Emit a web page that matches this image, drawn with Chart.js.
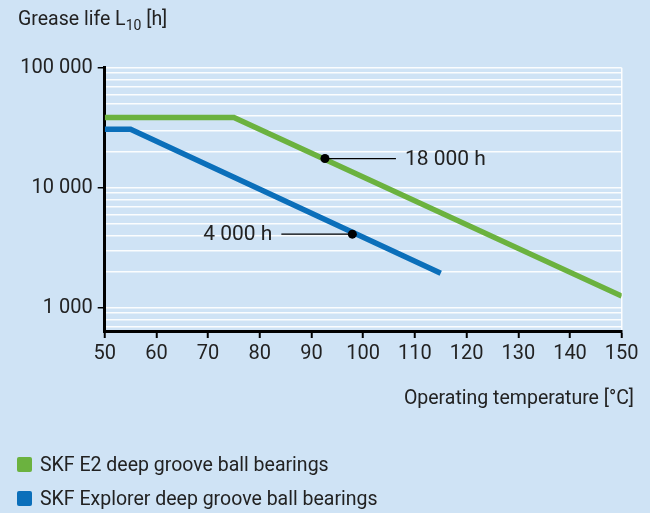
<!DOCTYPE html>
<html><head><meta charset="utf-8">
<script src="https://cdn.jsdelivr.net/npm/chart.js@4"></script>
<style>
html,body{margin:0;padding:0;background:#cfe3f5;}
#wrap{position:relative;width:650px;height:513px;overflow:hidden;font-family:Roboto,sans-serif;color:#222222;}
canvas{position:absolute;left:0;top:0;}
.t{position:absolute;white-space:nowrap;font-size:19.5px;line-height:22px;}
.t sub{font-size:14px;vertical-align:-5px;line-height:0;}
.lg{position:absolute;left:17px;white-space:nowrap;font-size:19.5px;line-height:22px;}
.lg span.sw{position:absolute;left:0;top:3px;width:15px;height:15px;border-radius:2px;}
.lg span.tx{position:absolute;left:23px;top:0;}
</style></head><body>
<div id="wrap">
<canvas id="c" width="650" height="513"></canvas>
<div class="t" style="left:18px;top:8px;">Grease life L<sub>10</sub> [h]</div>
<div class="t" style="right:16px;top:387px;">Operating temperature [°C]</div>
<div id="legend"></div>
</div>
<script>
// ---- data ----
const seriesNames = ['SKF E2 deep groove ball bearings', 'SKF Explorer deep groove ball bearings'];
const e2Temps = [50, 75, 150];
const e2Life = [38500, 38500, 1250];
const explorerTemps = [50, 55, 115];
const explorerLife = [30700, 30700, 1940];
const markerTemps = [92.6, 97.9];
const markerLife = [17500, 4100];
const markerLabels = ['18 000 h', '4 000 h'];
const xTicks = [50, 60, 70, 80, 90, 100, 110, 120, 130, 140, 150];
const yTicks = [700, 800, 900, 1000, 2000, 3000, 4000, 5000, 6000, 7000, 8000, 9000,
  10000, 20000, 30000, 40000, 50000, 60000, 70000, 80000, 90000, 100000];
const yLabelled = [1000, 10000, 100000];

// ---- styles ----
const GREEN = '#6bb23f', BLUE = '#0b6fba', TEXT = '#222222';
const FONT = {family: 'Roboto, sans-serif', size: 20};
const ANN_FONT_SIZE = 21;

function fmt(v) { return String(v).replace(/\B(?=(\d{3})+(?!\d))/g, ' '); }
function pts(xs, ys) { return xs.map((x, i) => ({x: x, y: ys[i]})); }

const leaderPlugin = {
  id: 'leaders',
  afterDatasetsDraw(chart) {
    const {ctx, scales: {x, y}} = chart;
    ctx.save();
    ctx.strokeStyle = '#000';
    ctx.lineWidth = 1.2;
    ctx.fillStyle = TEXT;
    ctx.font = ANN_FONT_SIZE + 'px ' + FONT.family;
    ctx.textBaseline = 'middle';
    markerTemps.forEach((t, i) => {
      const px = x.getPixelForValue(t), py = y.getPixelForValue(markerLife[i]);
      const dir = i === 0 ? 1 : -1;
      ctx.beginPath();
      ctx.moveTo(px, py);
      ctx.lineTo(px + dir * 71, py);
      ctx.stroke();
      ctx.textAlign = dir > 0 ? 'left' : 'right';
      ctx.fillText(markerLabels[i], px + dir * 80, py + 1);
    });
    ctx.restore();
  }
};

new Chart(document.getElementById('c'), {
  type: 'line',
  data: {
    datasets: [
      {label: 'markers', type: 'scatter', data: pts(markerTemps, markerLife), pointRadius: 4.5,
       pointBackgroundColor: '#000', pointBorderWidth: 0, order: 0},
      {label: seriesNames[0], data: pts(e2Temps, e2Life), borderColor: GREEN, borderWidth: 5.5,
       pointRadius: 0, tension: 0, fill: false, borderJoinStyle: 'miter', order: 2},
      {label: seriesNames[1], data: pts(explorerTemps, explorerLife), borderColor: BLUE, borderWidth: 5.5,
       pointRadius: 0, tension: 0, fill: false, borderJoinStyle: 'miter', order: 1}
    ]
  },
  options: {
    responsive: false,
    animation: false,
    layout: {padding: {top: 67.7, right: 28.3, bottom: 0, left: 0}},
    plugins: {legend: {display: false}, tooltip: {enabled: false}},
    scales: {
      x: {
        type: 'linear', min: 50, max: 150,
        afterBuildTicks: s => { s.ticks = xTicks.map(v => ({value: v})); },
        afterFit: s => { s.height = 182; },
        ticks: {font: FONT, color: TEXT, padding: 4, autoSkip: false, maxRotation: 0},
        grid: {
          color: c => (c.tick && c.tick.value === 150) ? 'rgba(255,255,255,0.9)' : 'rgba(0,0,0,0)',
          lineWidth: 1.5, tickColor: '#000', tickLength: 7, tickWidth: 2
        },
        border: {color: '#000', width: 3}
      },
      y: {
        type: 'logarithmic', min: 640, max: 100000,
        afterBuildTicks: s => { s.ticks = yTicks.map(v => ({value: v})); },
        afterFit: s => { s.width = 104.7; },
        ticks: {font: FONT, color: TEXT, padding: 5, autoSkip: false,
          callback: v => yLabelled.includes(v) ? fmt(v) : ''},
        grid: {
          color: 'rgba(255,255,255,0.9)', lineWidth: 1.5,
          tickColor: c => (c.tick && yLabelled.includes(c.tick.value)) ? '#000' : 'rgba(0,0,0,0)',
          tickLength: 7, tickWidth: 1.5
        },
        border: {color: '#000', width: 3}
      }
    }
  },
  plugins: [leaderPlugin]
});

// legend
const lg = document.getElementById('legend');
[GREEN, BLUE].forEach((col, i) => {
  const d = document.createElement('div');
  d.className = 'lg';
  d.style.top = (454 + i * 34) + 'px';
  d.innerHTML = '<span class="sw" style="background:' + col + '"></span><span class="tx">' + seriesNames[i] + '</span>';
  lg.appendChild(d);
});
</script>
</body></html>
